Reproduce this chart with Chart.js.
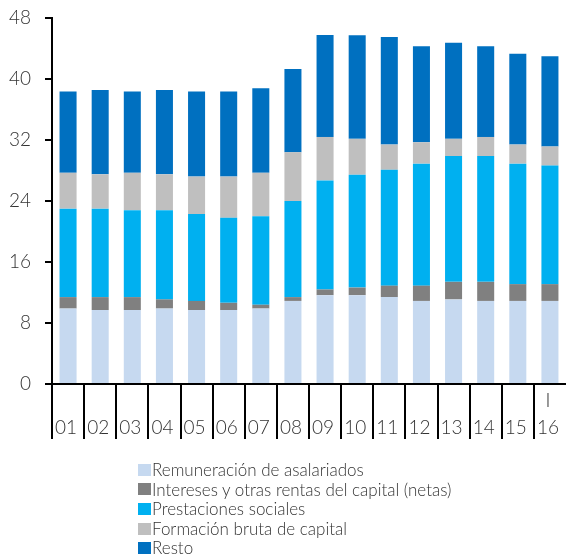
<!DOCTYPE html>
<html>
<head>
<meta charset="utf-8">
<script src="https://cdn.jsdelivr.net/npm/chart.js@4.4.1/dist/chart.umd.min.js"></script>
<style>
    html, body { margin: 0; padding: 0; background: #fff; overflow: hidden; }
    #wrap { position: relative; width: 566px; height: 559px; }
    #legend { position: absolute; left: 138px; top: 460px; font-family: Lato, sans-serif; font-weight: 300;
        font-size: 17px; color: #333; line-height: 19.6px; }
    #legend div { display: flex; align-items: center; white-space: nowrap; }
    #legend span.box { width: 13px; height: 12px; margin-right: 1px; display: inline-block; }
</style>
</head>
<body>
<div id="wrap">
    <canvas id="chart" width="566" height="460"></canvas>
    <div id="legend"></div>
</div>
<script>
const years = ['01', '02', '03', '04', '05', '06', '07', '08', '09', '10', '11', '12', '13', '14', '15', '16'];
const remuneracion = [9.9, 9.7, 9.7, 9.9, 9.7, 9.7, 9.9, 10.9, 11.65, 11.65, 11.4, 10.9, 11.1, 10.9, 10.9, 10.9];
const intereses = [1.5, 1.7, 1.7, 1.2, 1.2, 0.95, 0.5, 0.5, 0.75, 1.0, 1.5, 2.0, 2.3, 2.5, 2.2, 2.2];
const prestaciones = [11.6, 11.6, 11.4, 11.7, 11.4, 11.15, 11.6, 12.6, 14.3, 14.8, 15.2, 16.0, 16.5, 16.5, 15.8, 15.55];
const formacion = [4.7, 4.5, 4.9, 4.7, 4.9, 5.4, 5.7, 6.4, 5.7, 4.7, 3.3, 2.8, 2.25, 2.5, 2.5, 2.5];
const resto = [10.65, 11.07, 10.65, 11.07, 11.15, 11.15, 11.1, 10.9, 13.37, 13.6, 14.1, 12.6, 12.6, 11.9, 11.9, 11.85];
const yTicks = [0, 8, 16, 24, 32, 40, 48];

const axisFont = { family: 'Lato, sans-serif', size: 19, weight: 300 };

// the last category carries a small "I" mark above its label
const xLabels = years.map((y, i) => i === years.length - 1 ? ['I', y] : ['', y]);

const series = [
    { label: 'Remuneración de asalariados', data: remuneracion, color: '#c6d9f0' },
    { label: 'Intereses y otras rentas del capital (netas)', data: intereses, color: '#808080' },
    { label: 'Prestaciones sociales', data: prestaciones, color: '#00b0f0' },
    { label: 'Formación bruta de capital', data: formacion, color: '#bfbfbf' },
    { label: 'Resto', data: resto, color: '#0070c0' },
];

const htmlLegend = {
    id: 'htmlLegend',
    afterUpdate(chart) {
        const box = document.getElementById('legend');
        box.innerHTML = '';
        chart.data.datasets.forEach(ds => {
            const row = document.createElement('div');
            const sw = document.createElement('span');
            sw.className = 'box';
            sw.style.background = ds.backgroundColor;
            row.appendChild(sw);
            row.appendChild(document.createTextNode(ds.label));
            box.appendChild(row);
        });
    }
};

// long separators between the year labels, hanging under the x axis
const yearDividers = {
    id: 'yearDividers',
    afterDraw(chart) {
        const x = chart.scales.x;
        const ctx = chart.ctx;
        const half = (x.getPixelForValue(1) - x.getPixelForValue(0)) / 2;
        ctx.save();
        ctx.strokeStyle = '#000';
        ctx.lineWidth = 2;
        ctx.beginPath();
        for (let i = 0; i < years.length; i++) {
            const px = Math.round(x.getPixelForValue(i) - half);
            ctx.moveTo(px, x.top);
            ctx.lineTo(px, x.top + 55);
        }
        ctx.stroke();
        ctx.restore();
    }
};

const chart = new Chart(document.getElementById('chart'), {
    type: 'bar',
    data: {
        labels: xLabels,
        datasets: series.map(s => ({
            label: s.label,
            data: s.data,
            backgroundColor: s.color,
            borderWidth: 0,
            barPercentage: 0.53,
            categoryPercentage: 1,
        })),
    },
    options: {
        responsive: false,
        devicePixelRatio: 1,
        animation: false,
        layout: { padding: { top: 18, left: 0, right: 0, bottom: 16 } },
        plugins: {
            legend: { display: false },
            tooltip: { enabled: false },
        },
        scales: {
            x: {
                stacked: true,
                offset: true,
                border: { color: '#000', width: 2 },
                grid: { display: false, drawTicks: false },
                ticks: { color: '#333', font: { ...axisFont, lineHeight: 1.42 }, padding: 3, maxRotation: 0, autoSkip: false, labelOffset: -2 },
            },
            y: {
                stacked: true,
                min: 0,
                max: 48,
                afterBuildTicks: axis => { axis.ticks = yTicks.map(v => ({ value: v })); },
                afterFit: axis => {
                    axis.width = 52;
                    axis.paddingTop = 0;
                    axis.paddingBottom = 0;
                },
                border: { color: '#000', width: 2 },
                grid: { drawOnChartArea: false, drawTicks: true, tickLength: 7, color: '#000', lineWidth: 2 },
                ticks: { color: '#333', font: axisFont, padding: 14 },
            },
        },
    },
    plugins: [htmlLegend, yearDividers],
});
</script>
</body>
</html>
